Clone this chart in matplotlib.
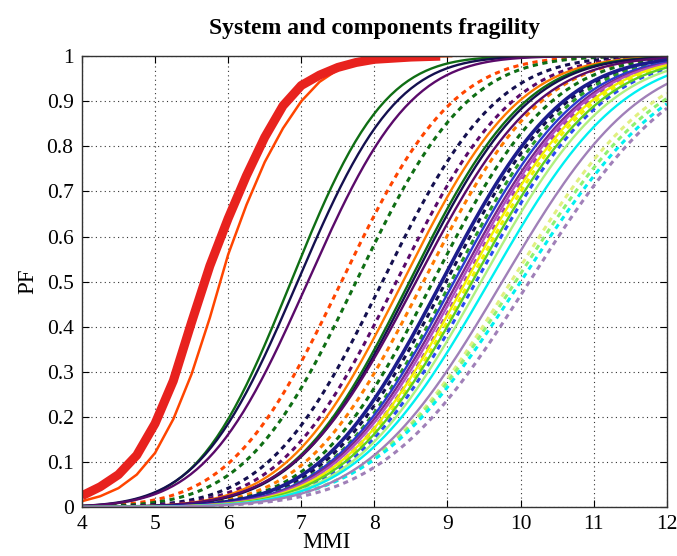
from math import erf

import numpy as np
import matplotlib
matplotlib.use('Agg')
import matplotlib.pyplot as plt

# system fragility (MMI, PF)
sys_mmi = [4.0, 4.25, 4.5, 4.75, 5.0, 5.25, 5.5, 5.75, 6.0, 6.25, 6.5,
           6.75, 7.0, 7.25, 7.5, 7.75, 8.0, 8.5, 8.9]
sys_pf = [0.025, 0.045, 0.072, 0.115, 0.185, 0.28, 0.41, 0.535, 0.64,
          0.735, 0.82, 0.89, 0.935, 0.958, 0.975, 0.986, 0.993, 0.998, 1.0]

# simplified system curve
sys2_mmi = [4.0, 4.25, 4.5, 4.75, 5.0, 5.25, 5.5, 5.75, 6.0, 6.25, 6.5,
            6.75, 7.0, 7.25, 7.5, 7.75, 8.0, 8.5, 9.05]
sys2_pf = [0.013, 0.024, 0.042, 0.072, 0.12, 0.195, 0.295, 0.42, 0.56,
           0.67, 0.765, 0.84, 0.90, 0.943, 0.97, 0.985, 0.993, 0.998, 1.0]

# components: median MMI (PF = 0.5) and spread
solid_mu = [6.86, 6.95, 7.09, 8.39, 8.48, 8.52, 8.57, 8.92, 9.09, 9.14,
            9.18, 9.25, 9.34, 9.46, 9.57, 9.75]
solid_sigma = [1.00, 1.06, 1.10, 1.24, 1.24, 1.25, 1.30, 1.30, 1.32, 1.33,
               1.33, 1.34, 1.36, 1.38, 1.42, 1.46]
dashed_mu = [7.55, 7.75, 8.11, 8.30, 8.67, 8.80, 8.98, 9.05, 9.23, 9.30,
             9.39, 9.87, 9.93, 10.0, 10.12]
dashed_sigma = [1.19, 1.19, 1.22, 1.24, 1.26, 1.27, 1.30, 1.30, 1.32, 1.34,
                1.36, 1.53, 1.57, 1.60, 1.57]

solid_colors = ['#0f6e14', '#14104f', '#5a0a6a', '#ff7a00', '#0f6e14',
                '#14104f', '#5a0a6a', '#1c1c8c', '#2a3ad0', '#7a2a8a',
                '#b050c0', '#f0f000', '#60d020', '#b0f080', '#00f0f0',
                '#a080b8']
dashed_colors = ['#ff4500', '#0f6e14', '#14104f', '#5a0a6a', '#ff7a00',
                 '#0f6e14', '#14104f', '#2a9a2a', '#a040b0', '#f0f000',
                 '#2a4af0', '#e0f080', '#90f070', '#00f0f0', '#a080b8']

xticks = [4, 5, 6, 7, 8, 9, 10, 11, 12]
yticks = [0, 0.1, 0.2, 0.3, 0.4, 0.5, 0.6, 0.7, 0.8, 0.9, 1]
ytick_labels = ['0', '0.1', '0.2', '0.3', '0.4', '0.5', '0.6', '0.7',
                '0.8', '0.9', '1']

plt.rcParams['font.family'] = ['Liberation Serif', 'DejaVu Serif']

mmi = np.linspace(4, 12, 200)


def norm_cdf(x, mu, sigma):
    return np.array([0.5 * (1 + erf((v - mu) / (sigma * np.sqrt(2))))
                     for v in x])


fig = plt.figure(figsize=(6.77, 5.56), dpi=100)
ax = fig.add_axes([0.121, 0.088, 0.864, 0.811])

for mu, s, c in zip(dashed_mu, dashed_sigma, dashed_colors):
    ax.plot(mmi, norm_cdf(mmi, mu, s), color=c, lw=2.2,
            dashes=(1.7, 1.5))
for i, (mu, s, c) in enumerate(zip(solid_mu, solid_sigma, solid_colors)):
    lw = 2.6 if i == 7 else 1.7
    ax.plot(mmi, norm_cdf(mmi, mu, s), color=c, lw=lw)

ax.plot(sys2_mmi, sys2_pf, color='#ff4500', lw=1.8)
ax.plot(sys_mmi, sys_pf, color='#e8221e', lw=6.5, solid_capstyle='butt',
        solid_joinstyle='round')

ax.set_xlim(4, 12)
ax.set_ylim(0, 1)
ax.set_xticks(xticks)
ax.set_yticks(yticks)
ax.set_yticklabels(ytick_labels)
ax.tick_params(direction='in', top=True, right=True, labelsize=15.5,
               length=5, width=0.8, pad=6)
ax.grid(True, linestyle=(0, (1, 3)), color='#333333', lw=0.8)
for sp in ax.spines.values():
    sp.set_linewidth(1.0)
    sp.set_color('#333333')

ax.set_xlabel('MMI', fontsize=16.5, labelpad=-2)
ax.xaxis.set_label_coords(0.418, -0.055)
ax.set_ylabel('PF', fontsize=16.5, labelpad=6)
ax.set_title('System and components fragility', fontsize=17,
             fontweight='bold', pad=16)

fig.savefig('out.png', dpi=100)
